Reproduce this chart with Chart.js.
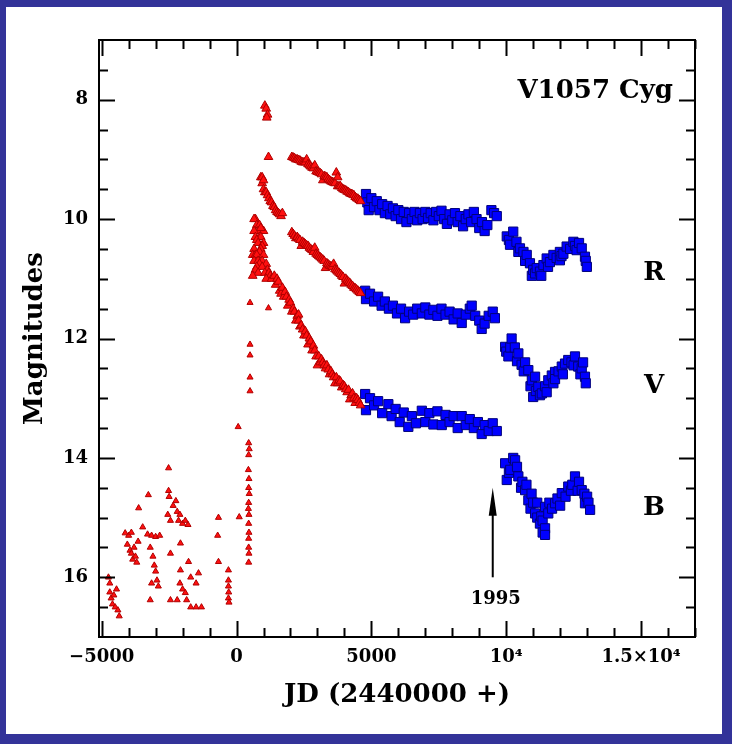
<!DOCTYPE html>
<html>
<head>
<meta charset="utf-8">
<script src="https://cdn.jsdelivr.net/npm/chart.js@4.4.0/dist/chart.umd.min.js"></script>
<style>
  body { margin: 0; background: #333399; }
  canvas { display: block; }
</style>
</head>
<body>
<canvas id="lc" width="732" height="744"></canvas>
<script>
// V1057 Cyg light curve, JD - 2440000 vs magnitude
// red = photographic / early photometry, blue = later monitoring
const preOutburst = [
  [-4750,16.0],[-4700,16.1],[-4700,16.25],[-4650,16.35],[-4600,16.45],[-4550,16.3],[-4500,16.5],[-4450,16.2],[-4400,16.55],[-4350,16.65],
  [-4130,15.26],[-4050,15.45],[-4000,15.3],[-3950,15.55],[-3900,15.25],[-3900,15.6],[-3850,15.7],[-3800,15.5],[-3750,15.65],[-3700,15.75],[-3650,15.4],
  [-3630,14.84],[-3480,15.16],[-3270,14.62],[-3300,15.28],[-3150,15.3],[-3000,15.32],[-2850,15.3],[-3200,15.5],[-3100,15.65],[-3050,15.8],
  [-3000,15.9],[-2950,16.05],[-2900,16.15],[-3150,16.1],[-3200,16.38],
  [-2520,14.17],[-2520,14.55],[-2500,14.65],[-2550,14.95],[-2450,15.05],[-2350,14.8],[-2250,14.72],[-2200,14.9],[-2150,15.05],[-2100,14.95],
  [-2000,15.1],[-1900,15.05],[-1800,15.12],[-2450,15.6],[-2080,15.43],[-2080,15.88],[-2100,16.1],[-2000,16.2],[-1900,16.26],[-1780,15.74],
  [-1700,16.0],[-1850,16.38],[-2200,16.38],[-2450,16.38],[-1700,16.5],[-1500,16.5],[-1300,16.5],[-1410,15.93],[-1500,16.1],
  [-670,15.0],[-700,15.3],[-670,15.74],[-300,15.88],[-300,16.05],[-300,16.15],[-290,16.25],[-300,16.35],[-280,16.42]
];
const riseColumn = [
  [60,13.48],[100,14.99],[450,13.75],[470,13.85],[450,13.95],[440,14.2],[460,14.35],[450,14.5],[470,14.6],[450,14.75],
  [440,14.85],[460,14.95],[450,15.1],[460,15.25],[450,15.35],[450,15.5],[460,15.6],[450,15.75],
  [500,11.4],[500,12.1],[500,12.28],[500,12.65],[500,12.88],[1185,11.49]
];
const redR = [
  [1050,8.1],[1100,8.15],[1150,8.25],[1120,8.3],[1185,8.96],
  [2050,8.96],[2100,8.97],[2150,8.98],[2200,9.0],[2250,9.0],[2300,9.01],[2350,9.02],[2400,9.04],[2450,9.05],[2500,9.05],[2550,9.05],
  [2600,9.0],[2650,9.08],[2700,9.1],[2750,9.12],[2800,9.14],[2850,9.15],[2900,9.1],[2950,9.2],[3000,9.21],[3050,9.22],[3100,9.23],
  [3150,9.25],[3200,9.35],[3250,9.28],[3300,9.29],[3350,9.3],[3400,9.33],[3450,9.35],[3500,9.37],[3550,9.38],[3600,9.39],[3650,9.4],
  [3700,9.22],[3750,9.3],[3750,9.45],[3800,9.45],[3850,9.45],[3900,9.48],[3950,9.5],[4000,9.51],[4050,9.52],[4100,9.54],[4150,9.55],
  [4200,9.57],[4250,9.58],[4300,9.59],[4350,9.6],[4400,9.63],[4450,9.65],[4500,9.66],[4550,9.68],[4600,9.7]
];
const redV = [
  [900,9.3],[950,9.4],[950,9.3],[1000,9.35],[1000,9.5],[1050,9.55],[1100,9.55],[1150,9.6],[1200,9.65],[1250,9.7],[1300,9.72],[1350,9.78],
  [1400,9.8],[1450,9.85],[1500,9.88],[1550,9.9],[1600,9.92],[1650,9.95],[1700,9.9],
  [2050,10.22],[2100,10.25],[2150,10.28],[2200,10.32],[2250,10.3],[2300,10.33],[2350,10.35],[2400,10.45],[2450,10.38],[2500,10.4],
  [2550,10.42],[2600,10.44],[2650,10.45],[2700,10.48],[2750,10.5],[2800,10.52],[2850,10.55],[2900,10.48],[2950,10.58],[3000,10.6],
  [3050,10.62],[3100,10.64],[3150,10.66],[3200,10.68],[3250,10.7],[3300,10.82],[3350,10.74],[3400,10.76],[3450,10.78],[3500,10.79],
  [3550,10.8],[3600,10.75],[3650,10.84],[3700,10.86],[3750,10.88],[3800,10.9],[3850,10.92],[3900,10.95],[3950,10.97],[4000,11.08],
  [4050,11.0],[4100,11.03],[4150,11.05],[4200,11.07],[4250,11.1],[4300,11.12],[4350,11.15],[4400,11.16],[4450,11.18],[4500,11.2],
  [4550,11.22],[4600,11.24]
];
const redB = [
  [700,10.0],[650,10.0],[750,10.1],[850,10.1],[800,10.2],[1000,10.2],[900,10.15],[650,10.2],[700,10.3],[850,10.3],[900,10.3],[750,10.35],
  [800,10.4],[1000,10.4],[950,10.45],[650,10.5],[900,10.5],[850,10.55],[600,10.6],[700,10.6],[750,10.6],[1000,10.6],[650,10.7],[800,10.7],
  [950,10.7],[850,10.75],[1100,10.75],[750,10.8],[950,10.8],[700,10.85],[1150,10.85],[800,10.9],[1050,10.9],[1200,10.9],[600,10.95],
  [1250,10.95],[1100,11.0],[1300,11.0],
  [1400,10.95],[1450,11.1],[1500,11.0],[1550,11.05],[1600,11.2],[1650,11.25],[1700,11.15],[1750,11.3],[1800,11.22],[1850,11.3],
  [1900,11.45],[1950,11.35],[2000,11.4],[2050,11.55],[2100,11.5],[2150,11.55],[2200,11.7],[2250,11.62],[2300,11.6],[2300,11.7],
  [2350,11.8],[2400,11.78],[2450,11.85],[2500,11.95],[2550,11.88],[2600,11.95],[2650,12.1],[2700,12.0],[2750,12.05],[2800,12.2],
  [2850,12.12],[2900,12.2],[2950,12.3],[3000,12.45],[3050,12.3],[3100,12.4],[3150,12.35],[3200,12.4],[3250,12.45],[3300,12.5],
  [3350,12.45],[3400,12.52],[3450,12.6],[3500,12.55],[3550,12.6],[3600,12.65],[3650,12.75],[3700,12.65],[3750,12.75],[3800,12.7],
  [3850,12.72],[3900,12.82],[3950,12.78],[4000,12.8],[4050,12.85],[4100,12.9],[4150,12.86],[4200,13.02],[4250,12.95],[4300,12.92],
  [4350,13.0],[4400,13.08],[4450,13.0],[4500,13.03],[4550,13.08],[4600,13.12]
];
const blueR = [
  [4800,9.58],[4850,9.72],[4900,9.85],[5000,9.65],[5100,9.8],[5200,9.7],[5300,9.85],[5400,9.75],[5500,9.9],[5600,9.78],[5700,9.92],[5800,9.82],
  [5900,9.95],[6000,9.85],[6100,10.0],[6200,9.88],[6300,10.05],[6400,9.9],[6500,10.0],[6600,9.88],[6700,10.02],[6800,9.9],[6900,10.0],[7000,9.88],
  [7100,9.98],[7200,9.9],[7300,10.02],[7400,9.88],[7500,9.95],[7600,9.86],[7700,10.0],[7800,10.08],[7900,9.92],[8000,10.02],[8100,9.9],[8200,10.05],
  [8300,9.95],[8400,10.12],[8500,10.0],[8600,9.92],[8700,10.05],[8800,9.88],[8900,10.0],[9000,10.15],[9100,10.05],[9200,10.2],[9300,10.1],
  [9450,9.85],[9550,9.9],[9650,9.95],
  [10020,10.29],[10100,10.35],[10140,10.43],[10260,10.21],[10380,10.38],[10450,10.55],[10510,10.49],[10640,10.55],[10700,10.7],[10760,10.6],
  [10880,10.74],[10950,10.95],[11000,10.85],[11070,10.91],[11130,10.82],[11250,10.88],[11300,10.95],[11380,10.77],[11500,10.66],[11550,10.8],
  [11620,10.72],[11750,10.6],[11870,10.65],[11990,10.55],[11990,10.69],[12050,10.62],[12120,10.58],[12240,10.46],[12370,10.5],[12490,10.38],
  [12550,10.45],[12610,10.52],[12700,10.4],[12800,10.49],[12920,10.63],[12950,10.7],[12990,10.8]
];
const blueV = [
  [4770,11.2],[4800,11.34],[4950,11.25],[5100,11.38],[5250,11.3],[5380,11.45],[5500,11.38],[5650,11.5],[5800,11.45],[5950,11.58],[6100,11.5],
  [6250,11.66],[6400,11.55],[6550,11.6],[6700,11.5],[6870,11.58],[7000,11.48],[7150,11.6],[7300,11.52],[7450,11.62],[7600,11.5],[7750,11.6],
  [7900,11.55],[8050,11.68],[8200,11.58],[8350,11.74],[8500,11.6],[8650,11.5],[8720,11.45],[8850,11.62],[9000,11.7],[9090,11.84],[9200,11.75],
  [9350,11.62],[9500,11.55],[9580,11.66],
  [9960,12.14],[10000,12.22],[10080,12.3],[10150,12.15],[10200,12.0],[10320,12.15],[10400,12.38],[10450,12.25],[10570,12.44],[10650,12.55],
  [10700,12.4],[10820,12.53],[10900,12.8],[10950,12.7],[11000,12.98],[11070,12.64],[11100,12.88],[11190,12.81],[11250,12.95],[11320,12.92],
  [11440,12.8],[11500,12.9],[11560,12.7],[11690,12.62],[11750,12.75],[11810,12.56],[11810,12.68],[11940,12.55],[12060,12.47],[12100,12.6],
  [12180,12.42],[12300,12.36],[12420,12.4],[12500,12.45],[12550,12.3],[12670,12.47],[12750,12.6],[12800,12.5],[12850,12.4],[12920,12.64],[12950,12.75]
];
const blueB = [
  [4770,12.93],[4800,13.2],[4950,13.0],[5100,13.12],[5250,13.05],[5400,13.25],[5630,13.1],[5750,13.3],[5900,13.18],[6050,13.4],[6200,13.24],
  [6370,13.48],[6500,13.3],[6650,13.42],[6870,13.21],[7000,13.4],[7150,13.25],[7300,13.44],[7450,13.22],[7610,13.45],[7750,13.28],[7900,13.4],
  [8050,13.3],[8200,13.5],[8350,13.3],[8500,13.45],[8650,13.35],[8800,13.5],[8950,13.4],[9090,13.6],[9200,13.45],[9350,13.55],[9500,13.42],[9650,13.55],
  [9960,14.09],[10020,14.37],[10100,14.25],[10150,14.2],[10260,14.0],[10330,14.04],[10400,14.15],[10450,14.31],[10550,14.5],[10600,14.4],
  [10700,14.54],[10750,14.45],[10820,14.71],[10900,14.85],[10940,14.6],[11000,14.75],[11070,14.93],[11150,14.75],[11150,15.0],[11250,15.1],
  [11300,14.98],[11350,15.05],[11350,15.25],[11440,15.18],[11440,15.29],[11440,14.82],[11560,14.93],[11600,14.75],[11700,14.85],[11810,14.76],
  [11900,14.68],[12000,14.8],[12060,14.59],[12200,14.65],[12300,14.48],[12400,14.55],[12450,14.45],[12550,14.31],[12650,14.55],[12700,14.4],
  [12800,14.54],[12900,14.6],[12920,14.76],[13000,14.65],[13050,14.75],[13110,14.87]
];

const xTickValues = [-5000, 0, 5000, 10000, 15000];
const xTickLabels = ['\u22125000', '0', '5000', '10\u2074', '1.5\u00d710\u2074'];
const yTickValues = [8, 10, 12, 14, 16];
const bandLabels = [['R', 10.9], ['V', 12.8], ['B', 14.85]];

const toXY = (arr) => arr.map((p) => ({ x: p[0], y: p[1] }));

const RED = '#ff1010', RED_EDGE = '#b00000';
const BLUE = '#0000ff', BLUE_EDGE = '#00007a';
const SERIF = "'DejaVu Serif', serif";

function redSet(data, r) {
  return {
    data: toXY(data), pointStyle: 'triangle', pointRadius: r,
    backgroundColor: RED, borderColor: RED_EDGE, borderWidth: 1, showLine: false
  };
}
function blueSet(data) {
  return {
    data: toXY(data), pointStyle: 'rect', pointRadius: 6.5,
    backgroundColor: BLUE, borderColor: BLUE_EDGE, borderWidth: 1, showLine: false
  };
}

const framePlugin = {
  id: 'frame',
  beforeDraw(chart) {
    const ctx = chart.ctx;
    ctx.save();
    ctx.fillStyle = '#333399';
    ctx.fillRect(0, 0, chart.width, chart.height);
    ctx.fillStyle = '#ffffff';
    ctx.fillRect(6, 7, 716, 727);
    ctx.restore();
  },
  afterDatasetsDraw(chart) {
    const { ctx, chartArea: a, scales: { x, y } } = chart;
    ctx.save();
    ctx.strokeStyle = '#000';
    ctx.lineWidth = 2;
    ctx.strokeRect(a.left, a.top, a.right - a.left, a.bottom - a.top);
    ctx.beginPath();
    for (let v = -5000; v <= 17000; v += 1000) {
      const px = Math.round(x.getPixelForValue(v)) + 0.5;
      const len = v % 5000 === 0 ? 16 : 9;
      ctx.moveTo(px, a.bottom); ctx.lineTo(px, a.bottom - len);
      ctx.moveTo(px, a.top); ctx.lineTo(px, a.top + len);
    }
    for (let m = 7.5; m < 17; m += 0.5) {
      const py = Math.round(y.getPixelForValue(m)) + 0.5;
      const len = m % 2 === 0 ? 16 : 9;
      ctx.moveTo(a.left, py); ctx.lineTo(a.left + len, py);
      ctx.moveTo(a.right, py); ctx.lineTo(a.right - len, py);
    }
    ctx.stroke();

    // star name and band labels
    ctx.fillStyle = '#000';
    ctx.font = 'bold 26px ' + SERIF;
    ctx.textAlign = 'right';
    ctx.textBaseline = 'alphabetic';
    ctx.fillText('V1057 Cyg', 673, 98);
    ctx.textAlign = 'center';
    ctx.textBaseline = 'middle';
    bandLabels.forEach(([t, m]) => ctx.fillText(t, 654, y.getPixelForValue(m)));

    // arrow marking the gap
    const ax = x.getPixelForValue(9500);
    const y0 = y.getPixelForValue(16.0), y1 = y.getPixelForValue(14.5);
    ctx.beginPath();
    ctx.moveTo(ax, y0); ctx.lineTo(ax, y1 + 10);
    ctx.stroke();
    ctx.beginPath();
    ctx.moveTo(ax, y1); ctx.lineTo(ax - 4, y1 + 28); ctx.lineTo(ax + 4, y1 + 28);
    ctx.closePath();
    ctx.fill();
    ctx.font = 'bold 18px ' + SERIF;
    ctx.fillText('1995', ax + 3, y0 + 22);
    ctx.restore();
  }
};

new Chart(document.getElementById('lc'), {
  type: 'scatter',
  data: {
    datasets: [
      redSet(preOutburst, 3.5),
      redSet(riseColumn, 3.5),
      redSet(redB, 5),
      redSet(redV, 5),
      redSet(redR, 5),
      blueSet(blueR),
      blueSet(blueV),
      blueSet(blueB)
    ]
  },
  options: {
    responsive: false,
    animation: false,
    layout: { padding: { top: 40, right: 37, left: 0, bottom: 0 } },
    plugins: { legend: { display: false }, tooltip: { enabled: false } },
    scales: {
      x: {
        type: 'linear', min: -5100, max: 17000,
        afterBuildTicks: (s) => { s.ticks = xTickValues.map((v) => ({ value: v })); },
        afterFit: (s) => { s.height = 107; },
        grid: { display: false, drawTicks: false },
        border: { display: false },
        ticks: {
          autoSkip: false, maxRotation: 0, padding: 10, color: '#000',
          font: { family: SERIF, size: 18, weight: 'bold' },
          callback: (v) => xTickLabels[xTickValues.indexOf(v)]
        },
        title: {
          display: true, text: 'JD (2440000 +)', color: '#000',
          font: { family: SERIF, size: 26, weight: 'bold' },
          padding: { top: 0, bottom: 33 }
        }
      },
      y: {
        type: 'linear', reverse: true, min: 7, max: 17,
        afterBuildTicks: (s) => { s.ticks = yTickValues.map((v) => ({ value: v })); },
        afterFit: (s) => { s.width = 99; },
        grid: { display: false, drawTicks: false },
        border: { display: false },
        ticks: {
          autoSkip: false, padding: 11, color: '#000',
          font: { family: SERIF, size: 18, weight: 'bold' }
        },
        title: {
          display: true, text: 'Magnitudes', color: '#000',
          font: { family: SERIF, size: 26, weight: 'bold' },
          padding: { top: 20, bottom: 0 }
        }
      }
    }
  },
  plugins: [framePlugin]
});
</script>
</body>
</html>
